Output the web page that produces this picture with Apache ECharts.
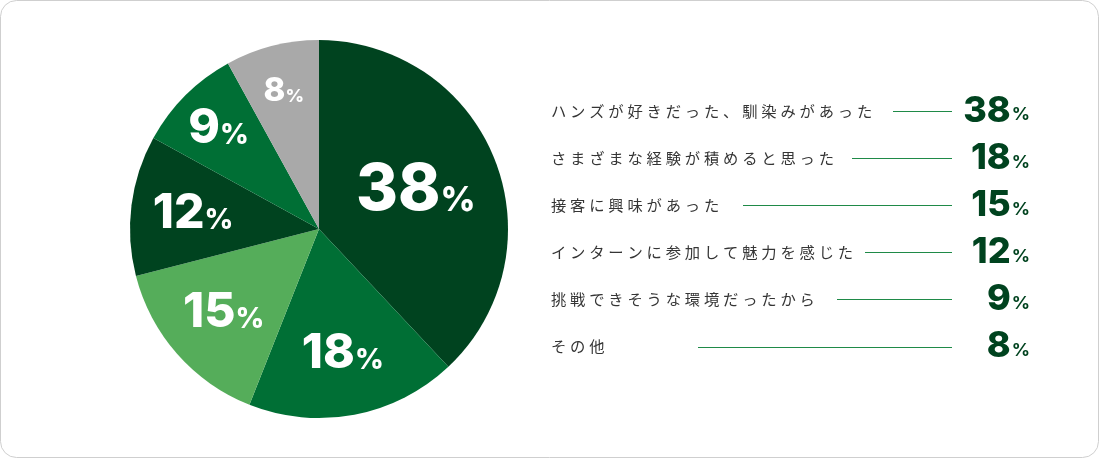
<!DOCTYPE html>
<html>
<head>
<meta charset="utf-8">
<script src="https://cdn.jsdelivr.net/npm/echarts@6/dist/echarts.min.js"></script>
<style>
html, body { margin: 0; padding: 0; background: #fff; }
#chart { width: 1100px; height: 459px; }
</style>
</head>
<body>
<div id="chart"></div>
<script>
// 回答データ
var reasons = ['ハンズが好きだった、馴染みがあった', 'さまざまな経験が積めると思った', '接客に興味があった',
    'インターンに参加して魅力を感じた', '挑戦できそうな環境だったから', 'その他'];
var shares = [38, 18, 15, 12, 9, 8];

var sliceColors = ['#00431f', '#006f35', '#55ad5a', '#00431f', '#006f35', '#a9a9a9'];
var leaderX = [893, 852, 743, 865, 837, 698];   // 引き出し線の開始位置

var jpFont = '"Noto Sans CJK JP", sans-serif';
var numFont = 'Inter, Lato, sans-serif';
var darkGreen = '#00431f';

function spaced(s) {
    return s.split('').join('\u2005');
}

// パイ内ラベルのサイズ区分
function sizeKey(i) {
    if (i === 0) return 'a';
    if (i === shares.length - 1) return 'c';
    return 'b';
}

// ラベルを置く半径の区分（大きい扇ほど中心寄り）
function ring(v) {
    if (v >= 30) return 'near';
    if (v >= 10) return 'mid';
    return 'far';
}

var pieRich = {
    a: { fontFamily: numFont, fontWeight: 800, fontSize: 64, color: '#fff' },
    ap: { fontFamily: numFont, fontWeight: 800, fontSize: 34, color: '#fff', padding: [21, 0, 0, 0] },
    b: { fontFamily: numFont, fontWeight: 800, fontSize: 48, color: '#fff' },
    bp: { fontFamily: numFont, fontWeight: 800, fontSize: 28, color: '#fff', padding: [14, 0, 0, 0] },
    c: { fontFamily: numFont, fontWeight: 800, fontSize: 33, color: '#fff' },
    cp: { fontFamily: numFont, fontWeight: 800, fontSize: 18, color: '#fff', padding: [10, 0, 0, 0] }
};

function pieLabel(p) {
    var k = sizeKey(p.dataIndex);
    return '{' + k + '|' + p.value + '}{' + k + 'p|%}';
}

var chart = echarts.init(document.getElementById('chart'));

var graphics = [{
    type: 'rect',
    shape: { x: 0.5, y: 0.5, width: 1098, height: 457, r: 16 },
    style: { fill: '#fff', stroke: '#cfcfcf', lineWidth: 1 },
    z: -10
}];

var rowTop = 111, rowGap = 47.1;
reasons.forEach(function (r, i) {
    var y = rowTop + i * rowGap;
    graphics.push({
        type: 'text',
        x: 551, y: y,
        style: {
            text: spaced(r),
            font: '15.3px ' + jpFont,
            fill: '#353535',
            textAlign: 'left', align: 'left',
            textVerticalAlign: 'middle', verticalAlign: 'middle'
        }
    });
    graphics.push({
        type: 'line',
        shape: { x1: leaderX[i], y1: Math.round(y) + 0.5, x2: 952, y2: Math.round(y) + 0.5 },
        style: { stroke: '#1f8a48', lineWidth: 1 }
    });
    graphics.push({
        type: 'text',
        x: 1030, y: y,
        style: {
            text: '{n|' + shares[i] + '}{p|%}',
            rich: {
                n: { fontFamily: numFont, fontWeight: 800, fontSize: 36, fill: darkGreen, color: darkGreen },
                p: { fontFamily: numFont, fontWeight: 700, fontSize: 18, fill: darkGreen, color: darkGreen, padding: [8, 0, 0, 1] }
            },
            textAlign: 'right', align: 'right',
            textVerticalAlign: 'middle', verticalAlign: 'middle'
        }
    });
});

// 扇形そのもの
var series = [{
    type: 'pie',
    center: [319, 229],
    radius: [0, 189],
    startAngle: 90,
    clockwise: true,
    silent: true,
    label: { show: false },
    labelLine: { show: false },
    data: shares.map(function (v, i) {
        return { value: v, name: reasons[i], itemStyle: { color: sliceColors[i] } };
    })
}];

// ラベル用の透明なパイ（半径ごと）
var rings = { near: [13, 189], mid: [59, 189], far: [89, 189] };
Object.keys(rings).forEach(function (key) {
    series.push({
        type: 'pie',
        center: [319, 229],
        radius: rings[key],
        startAngle: 90,
        clockwise: true,
        avoidLabelOverlap: false,
        silent: true,
        z: 5,
        label: { show: true, position: 'inside', formatter: pieLabel, rich: pieRich },
        labelLine: { show: false },
        data: shares.map(function (v, i) {
            return {
                value: v, name: reasons[i],
                itemStyle: { color: 'rgba(0,0,0,0)' },
                label: { show: ring(v) === key }
            };
        })
    });
});

chart.setOption({ animation: false, graphic: graphics, series: series });
</script>
</body>
</html>
